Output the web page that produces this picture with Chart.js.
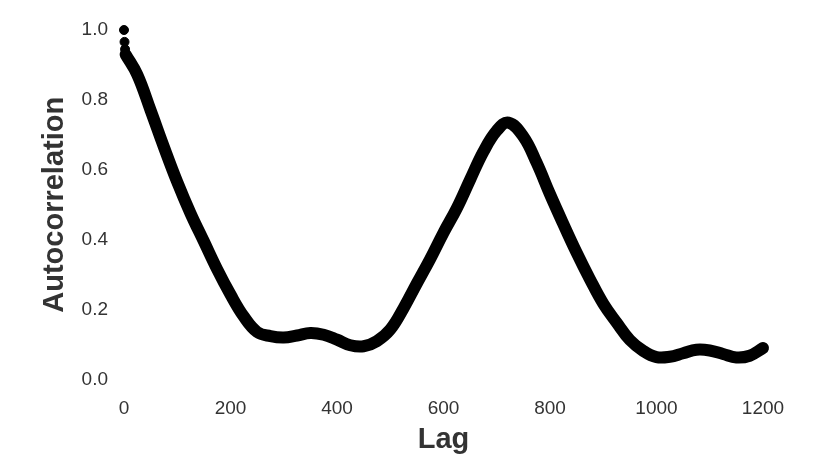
<!DOCTYPE html>
<html>
<head>
<meta charset="utf-8">
<script src="https://cdn.jsdelivr.net/npm/chart.js@4/dist/chart.umd.min.js"></script>
<style>
    html, body { margin: 0; padding: 0; background: #fff; }
    #wrap { width: 820px; height: 471px; }
</style>
</head>
<body>
<div id="wrap"><canvas id="chartAcf"></canvas></div>
<script>
// Lag -> autokorelacja
const lagi = [3, 25, 50, 75, 100, 125, 150, 175, 200, 225, 250, 275, 300, 325, 350, 375, 400, 425, 450, 475,
    500, 525, 550, 575, 600, 625, 650, 675, 700, 722, 750, 775, 800, 825, 850, 875, 900, 925, 950, 975,
    1000, 1025, 1050, 1075, 1100, 1125, 1150, 1175, 1200];
const autokorelacja = [0.93, 0.872, 0.77, 0.665, 0.565, 0.475, 0.395, 0.315, 0.243, 0.18, 0.136, 0.124, 0.12, 0.126, 0.133, 0.128, 0.114, 0.098, 0.095, 0.11,
    0.143, 0.204, 0.275, 0.345, 0.42, 0.49, 0.572, 0.652, 0.712, 0.735, 0.695, 0.62, 0.53, 0.445, 0.363, 0.287, 0.217, 0.163, 0.113, 0.082,
    0.064, 0.065, 0.075, 0.085, 0.083, 0.073, 0.063, 0.068, 0.09];

// Pierwsze punkty, widoczne osobno
const lagiStart = [0, 1, 2];
const wartosciStart = [1.0, 0.966, 0.945];

// Osie
const xMin = 0, xMax = 1200, xKrok = 200;
const yMin = 0, yMax = 1, yKrok = 0.2;

const kolorTekstu = '#333333';
const czcionka = 'Arial, "Liberation Sans", sans-serif';

function punkty(xs, ys) {
    return xs.map((x, i) => ({ x: x, y: ys[i] }));
}

const ctx = document.getElementById('chartAcf').getContext('2d');

new Chart(ctx, {
    type: 'scatter',
    data: {
        datasets: [
            {
                data: punkty(lagi, autokorelacja),
                showLine: true,
                borderColor: '#000',
                backgroundColor: '#000',
                borderWidth: 12,
                borderCapStyle: 'round',
                borderJoinStyle: 'round',
                tension: 0.4,
                pointRadius: 0,
                clip: false
            },
            {
                data: punkty(lagiStart, wartosciStart),
                backgroundColor: '#000',
                borderColor: '#000',
                pointRadius: 4.5,
                clip: false
            }
        ]
    },
    options: {
        responsive: true,
        maintainAspectRatio: false,
        animation: false,
        layout: { padding: { top: 30, right: 57, left: 0, bottom: 0 } },
        plugins: { legend: { display: false }, tooltip: { enabled: false } },
        scales: {
            x: {
                type: 'linear',
                min: xMin,
                max: xMax,
                grid: { display: false, drawTicks: false },
                border: { display: false },
                ticks: {
                    stepSize: xKrok,
                    padding: 18,
                    color: kolorTekstu,
                    font: { family: czcionka, size: 19 },
                    callback: v => String(v)
                },
                title: {
                    display: true,
                    text: 'Lag',
                    color: kolorTekstu,
                    padding: { top: 0, bottom: 17 },
                    font: { family: czcionka, size: 29, weight: 'bold', lineHeight: 1 }
                },
                afterFit: scale => { scale.height = 91.5; }
            },
            y: {
                type: 'linear',
                min: yMin,
                max: yMax,
                grid: { display: false, drawTicks: false },
                border: { display: false },
                ticks: {
                    stepSize: yKrok,
                    padding: 16,
                    color: kolorTekstu,
                    font: { family: czcionka, size: 19 },
                    callback: v => Number(v).toFixed(1)
                },
                title: {
                    display: true,
                    text: 'Autocorrelation',
                    color: kolorTekstu,
                    padding: { top: 40, bottom: 0 },
                    font: { family: czcionka, size: 29, weight: 'bold', lineHeight: 1 }
                },
                afterFit: scale => { scale.width = 124; }
            }
        }
    }
});
</script>
</body>
</html>
